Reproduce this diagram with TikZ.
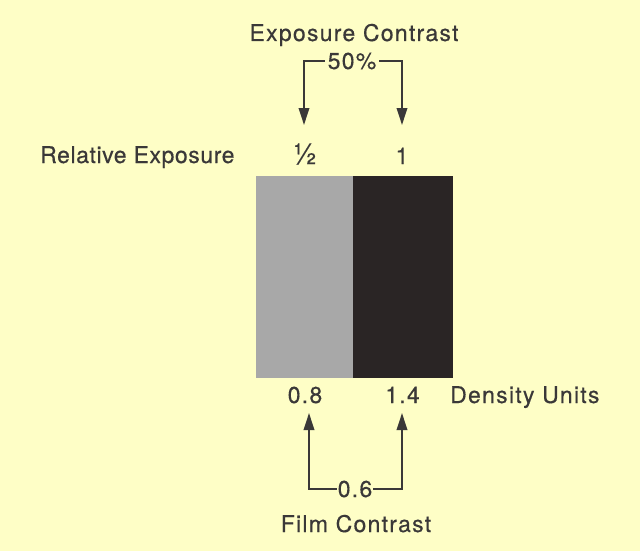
\documentclass[tikz,border=0pt]{standalone}
\usepackage{fontspec}
\setmainfont{TeX Gyre Heros}[LetterSpace=5.5,FakeBold=0.4]
\usetikzlibrary{arrows.meta}
\definecolor{bg}{HTML}{FEFEC6}
\definecolor{ink}{HTML}{3A3838}
\definecolor{lightpatch}{HTML}{A8A8A8}
\definecolor{darkpatch}{HTML}{2A2525}
\begin{document}
\begin{tikzpicture}[x=1pt,y=-1pt,
  lbl/.style={text=ink,font=\fontsize{23}{27}\selectfont,inner sep=0pt,anchor=base},
  brk/.style={text=ink,font=\fontsize{23}{27}\selectfont,inner ysep=0pt,inner xsep=3pt,anchor=base},
  arr/.style={draw=ink,line width=1.9pt,-{Triangle[length=17pt,width=10.5pt]}},
  patch/.style={inner sep=0pt,minimum height=202pt,anchor=north west}]
\fill[bg] (0,0) rectangle (640,551);
\useasboundingbox (0,0) rectangle (640,551);
% patches
\node[patch,fill=lightpatch,minimum width=97pt] (light) at (256,176) {};
\node[patch,fill=darkpatch,minimum width=100pt] (dark) at (353,176) {};
% top labels
\node[lbl] (ec) at (354,41) {Exposure Contrast};
\node[brk] (p50) at (352,69) {50\%};
\node[lbl,anchor=base west] (rel) at (40,163) {\addfontfeatures{LetterSpace=2.5}Relative Exposure};
\node[lbl,font=\fontsize{29}{32}\selectfont] (half) at (305,164) {½};
\node[lbl] (one) at (402,164) {1};
\coordinate (t1) at (304,125);
\coordinate (t2) at (402,125);
\draw[arr] (p50.west) -| (t1);
\draw[arr] (p50.east) -| (t2);
% bottom labels
\node[lbl] (d08) at (305,403) {0.8};
\node[lbl] (d14) at (402.5,403) {1.4};
\node[lbl,anchor=base west] (du) at (450,403) {Density Units};
\node[brk,inner xsep=1pt] (p06) at (355,497) {0.6};
\node[lbl] (fc) at (356,532) {Film Contrast};
\coordinate (b1) at (309,413);
\coordinate (b2) at (402,413);
\draw[arr] (p06.west) -| (b1);
\draw[arr] (p06.east) -| (b2);
\end{tikzpicture}
\end{document}
